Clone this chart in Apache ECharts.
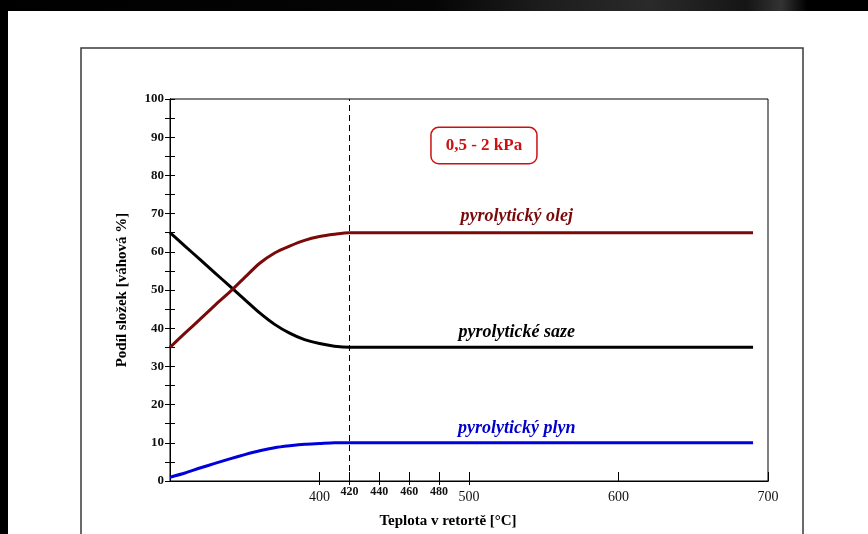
<!DOCTYPE html>
<html>
<head>
<meta charset="utf-8">
<script src="https://cdn.jsdelivr.net/npm/echarts@6/dist/echarts.min.js"></script>
<style>
html,body{margin:0;padding:0;background:#fff;}
#c{width:868px;height:534px;}
</style>
</head>
<body>
<div id="c"></div>
<script>
// ---- data ----
const temps = [300, 310, 320, 330, 340, 350, 360, 370, 380, 390, 400, 410, 420, 690];
const saze  = [65, 61.5, 58, 54.5, 51, 47.5, 44, 41, 38.7, 37, 36, 35.3, 35, 35];
const olej  = [35, 38.7, 42.3, 46, 49.5, 53.3, 57, 59.7, 61.5, 63, 64, 64.6, 65, 65];
const plyn  = [1, 2.1, 3.4, 4.6, 5.8, 6.9, 7.9, 8.7, 9.2, 9.6, 9.8, 10, 10, 10];
const xTicks = [400, 420, 440, 460, 480, 500, 600, 700];
const smallXTicks = [420, 440, 460, 480];
const crossXTicks = [400, 420, 440, 460, 480, 500];
const seriesNames = ['pyrolytické saze', 'pyrolytický olej', 'pyrolytický plyn'];
const markerTemp = 420;
const pressureLabel = '0,5 - 2 kPa';

const pairs = (ys) => temps.map((t, i) => [t, ys[i]]);

const serif = '"Liberation Serif", "DejaVu Serif", serif';
const chart = echarts.init(document.getElementById('c'), null, {renderer: 'canvas'});

const W = 868, H = 534;
const gridBox = {left: 170, right: 100, top: 99, bottom: 53};
const plotW = W - gridBox.left - gridBox.right;
const plotH = H - gridBox.top - gridBox.bottom;

const option = {
  backgroundColor: '#ffffff',
  animation: false,
  grid: Object.assign({show: true, borderColor: '#000', borderWidth: 1}, gridBox),
  xAxis: [
    {
      type: 'value', min: 300, max: 700, position: 'bottom',
      axisLine: {show: true, onZero: false, lineStyle: {color: '#000', width: 1}},
      axisTick: {show: true, inside: true, length: 9, customValues: xTicks, lineStyle: {color: '#000'}},
      axisLabel: {
        show: true,
        customValues: xTicks,
        margin: 5,
        formatter: (v) => smallXTicks.indexOf(v) >= 0 ? '{s|' + v + '}' : '{b|' + v + '}',
        rich: {
          b: {fontFamily: serif, fontSize: 14, color: '#111', padding: [4, 0, 0, 0]},
          s: {fontFamily: serif, fontSize: 12, fontWeight: 'bold', color: '#111', padding: [0, 0, 4, 0]}
        }
      },
      splitLine: {show: false},
      name: 'Teplota v retortě [°C]',
      nameLocation: 'middle',
      nameGap: 33,
      nameTextStyle: {fontFamily: serif, fontSize: 15, fontWeight: 'bold', color: '#000', padding: [0, 42, 0, 0]}
    },
    {
      // tick-only axis moved onto the bottom edge: ticks poke below the axis line
      type: 'value', min: 300, max: 700, position: 'top', offset: -plotH,
      axisLine: {show: true, onZero: false, lineStyle: {color: '#000', width: 1}},
      axisTick: {show: true, inside: true, length: 4, customValues: crossXTicks, lineStyle: {color: '#000'}},
      axisLabel: {show: false},
      splitLine: {show: false}
    }
  ],
  yAxis: [
    {
      type: 'value', min: 0, max: 100, interval: 5, position: 'left',
      axisLine: {show: true, onZero: false, lineStyle: {color: '#000', width: 1}},
      axisTick: {show: true, inside: false, length: 5, lineStyle: {color: '#000'}},
      axisLabel: {
        margin: 6,
        fontFamily: serif, fontSize: 13, fontWeight: 'bold', color: '#111',
        formatter: (v) => (v % 10 === 0 ? String(v) : '')
      },
      splitLine: {show: false},
      name: 'Podíl složek [váhová %]',
      nameLocation: 'middle',
      nameGap: 40,
      nameRotate: 90,
      nameTextStyle: {fontFamily: serif, fontSize: 15, fontWeight: 'bold', color: '#000'}
    },
    {
      // tick-only axis moved onto the left edge: ticks poke into the plot
      type: 'value', min: 0, max: 100, interval: 5, position: 'right', offset: -plotW,
      axisLine: {show: true, onZero: false, lineStyle: {color: '#000', width: 1}},
      axisTick: {show: true, inside: false, length: 5, lineStyle: {color: '#000'}},
      axisLabel: {show: false},
      splitLine: {show: false}
    }
  ],
  series: [
    {
      name: seriesNames[0], type: 'line', data: pairs(saze),
      smooth: 0.25, showSymbol: false,
      lineStyle: {color: '#000000', width: 3},
      markLine: {
        silent: true, symbol: 'none', label: {show: false},
        lineStyle: {color: '#000', width: 1, type: [6, 4]},
        data: [{xAxis: markerTemp}]
      }
    },
    {
      name: seriesNames[1], type: 'line', data: pairs(olej),
      smooth: 0.25, showSymbol: false,
      lineStyle: {color: '#7a0a0a', width: 3}
    },
    {
      name: seriesNames[2], type: 'line', data: pairs(plyn),
      smooth: 0.25, showSymbol: false,
      lineStyle: {color: '#0000dd', width: 3}
    },
    {type: 'line', xAxisIndex: 1, yAxisIndex: 1, data: [], silent: true}
  ]
};
chart.setOption(option);

const annots = [
  {text: seriesNames[1], at: [532, 69.3], color: '#7a0a0a'},
  {text: seriesNames[0], at: [532, 38.9], color: '#000000'},
  {text: seriesNames[2], at: [532, 13.9], color: '#0000cc'}
];
const g = [
  {type: 'rect', shape: {x: 0, y: 0, width: 868, height: 11}, style: {
    fill: new echarts.graphic.LinearGradient(0, 0, 1, 0, [
      {offset: 0, color: '#000'}, {offset: 0.5, color: '#050505'},
      {offset: 0.62, color: '#1c1c1c'}, {offset: 0.75, color: '#2a2a2a'},
      {offset: 0.86, color: '#151515'}, {offset: 0.9, color: '#333'},
      {offset: 0.93, color: '#000'}, {offset: 1, color: '#000'}])
  }, z: 100},
  {type: 'rect', shape: {x: 0, y: 0, width: 8, height: 534}, style: {fill: '#000'}, z: 100},
  {type: 'rect', shape: {x: 81, y: 48, width: 722, height: 520}, style: {fill: 'none', stroke: '#3a3a3a', lineWidth: 1.5}, z: 50}
];
annots.forEach(a => {
  const p = chart.convertToPixel({xAxisIndex: 0, yAxisIndex: 0}, a.at);
  g.push({type: 'text', x: p[0], y: p[1], z: 60, style: {
    text: a.text, fill: a.color, fontFamily: serif, fontSize: 18, fontWeight: 'bold', fontStyle: 'italic',
    align: 'center', verticalAlign: 'middle'
  }});
});
const bp = chart.convertToPixel({xAxisIndex: 0, yAxisIndex: 0}, [510, 87.8]);
g.push({type: 'text', x: bp[0], y: bp[1], z: 60, style: {
  text: pressureLabel, fill: '#cc1111', fontFamily: serif, fontSize: 17, fontWeight: 'bold',
  align: 'center', verticalAlign: 'middle',
  backgroundColor: '#fff', borderColor: '#cc1111', borderWidth: 1.5, borderRadius: 7,
  padding: [10, 14, 8, 14]
}});
chart.setOption({graphic: g});
</script>
</body>
</html>
